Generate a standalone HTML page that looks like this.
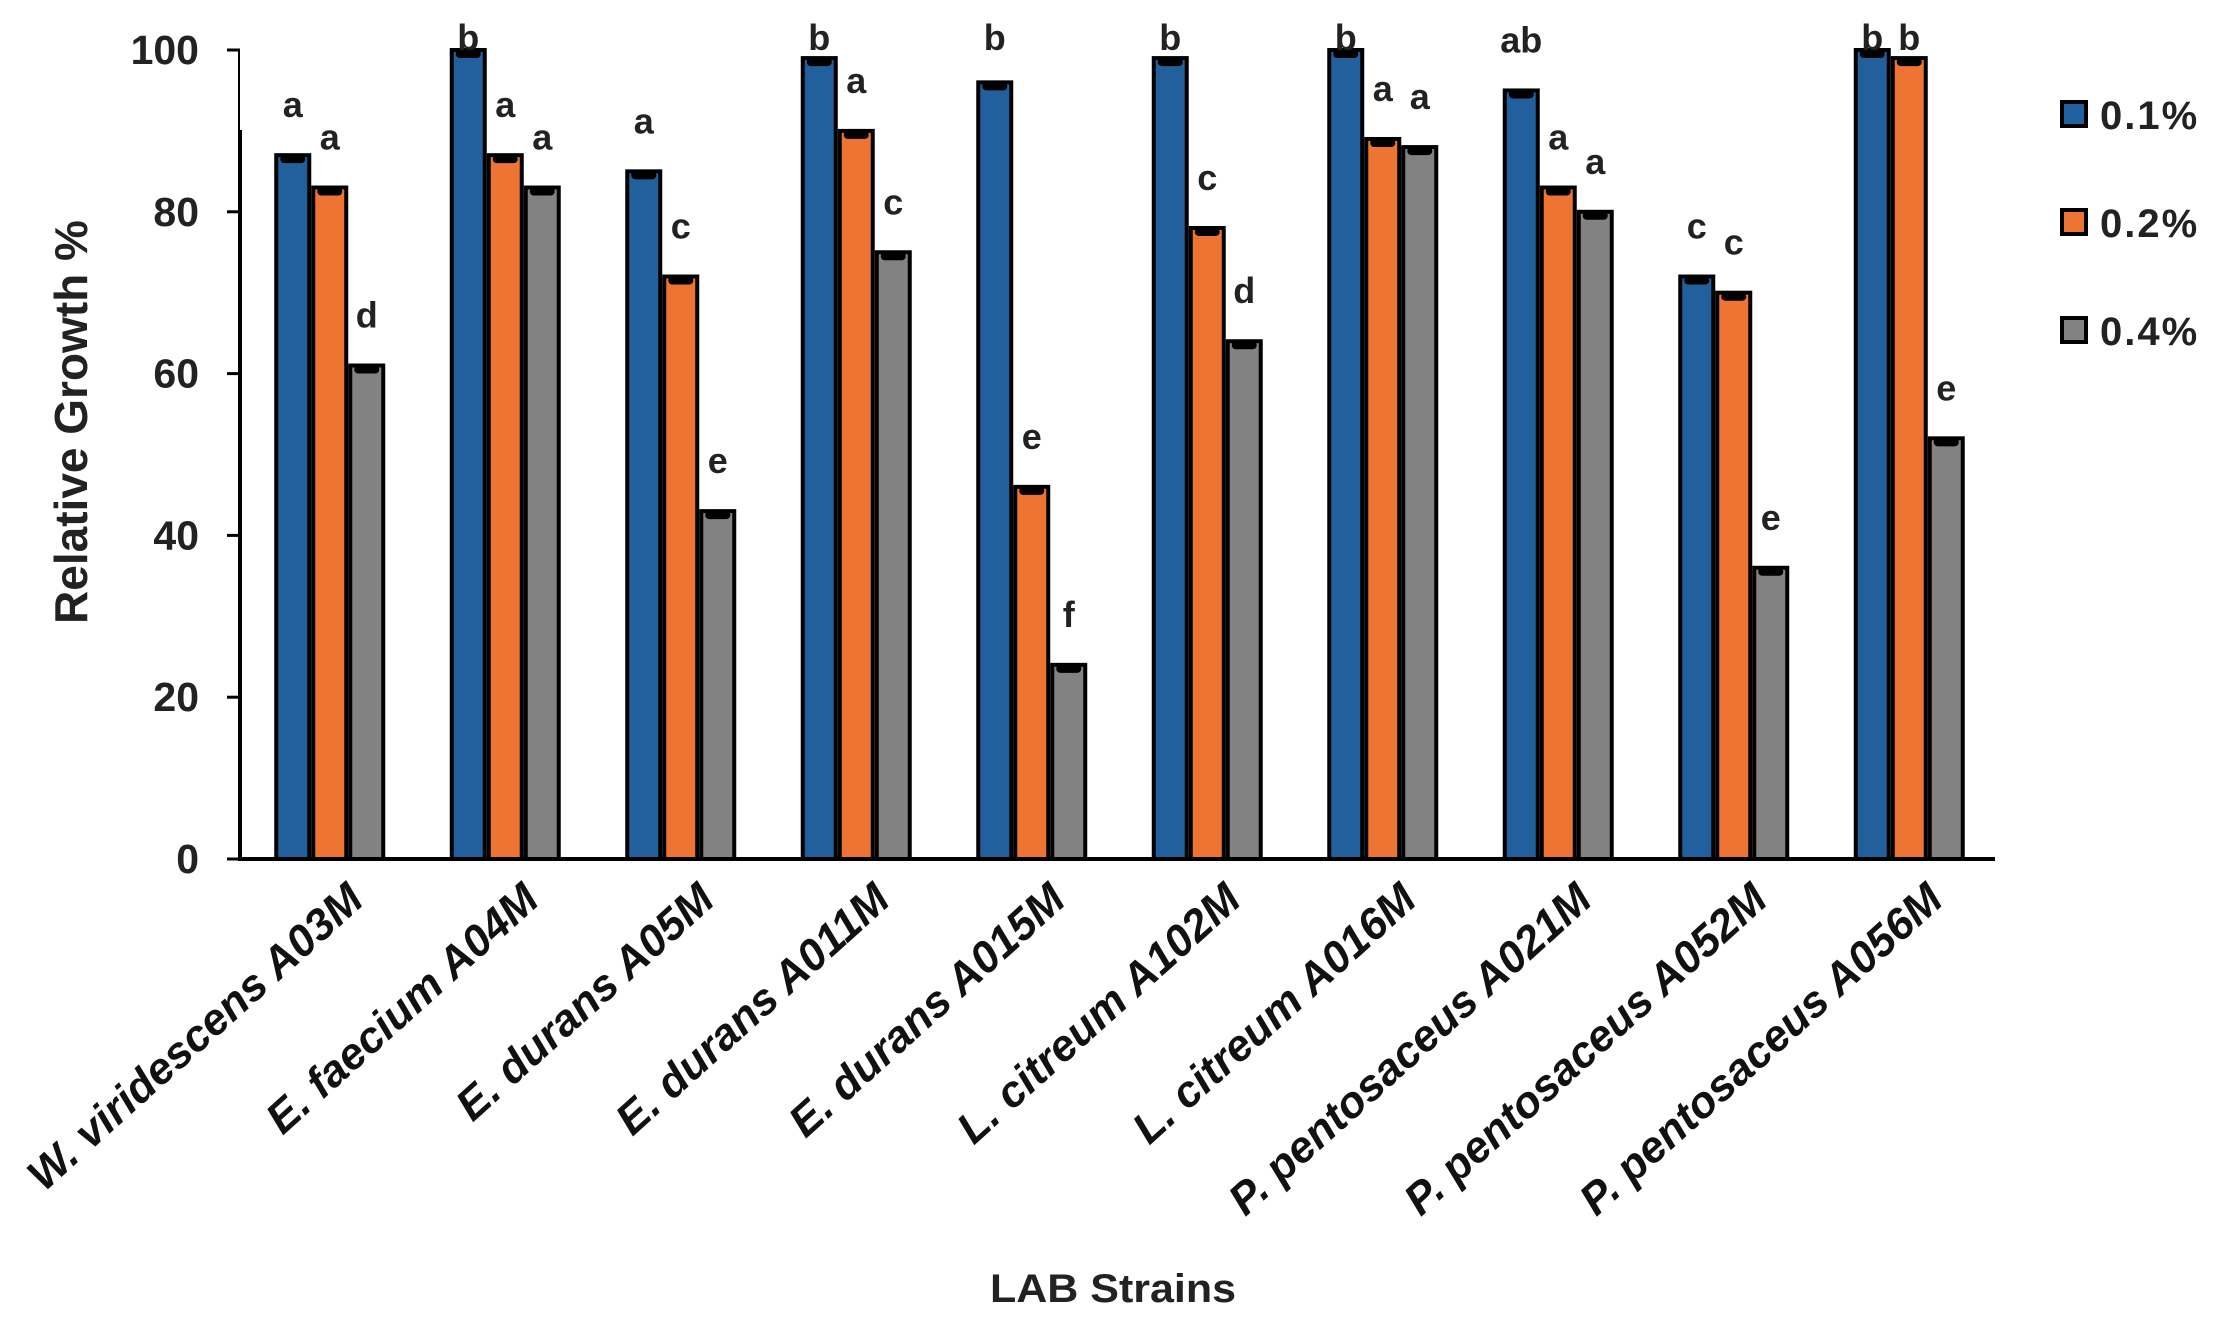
<!DOCTYPE html>
<html><head><meta charset="utf-8"><style>
html,body{margin:0;padding:0;background:#fff;}
svg{display:block;font-family:"Liberation Sans",Arial,sans-serif;}
</style></head><body>
<svg id="chart" width="2219" height="1322" viewBox="0 0 2219 1322" xmlns="http://www.w3.org/2000/svg">
<rect width="2219" height="1322" fill="#fff"/>
<g id="plot"></g>
<text transform="translate(87,422) rotate(-90)" text-anchor="middle" font-size="46" font-weight="bold" fill="#222">Relative Growth %</text>
<text x="1113" y="1302" text-anchor="middle" font-size="40" font-weight="bold" fill="#222" textLength="246" lengthAdjust="spacingAndGlyphs">LAB Strains</text>
</svg>
<script>
const categories = ["W. viridescens A03M","E. faecium A04M","E. durans A05M","E. durans A011M","E. durans A015M","L. citreum A102M","L. citreum A016M","P. pentosaceus A021M","P. pentosaceus A052M","P. pentosaceus A056M"];
const series01 = [87,100,85,99,96,99,100,95,72,100];
const series02 = [83,87,72,90,46,78,89,83,70,99];
const series04 = [61,83,43,75,24,64,88,80,36,52];
const letters01 = ["a","b","a","b","b","b","b","ab","c","b"];
const letters02 = ["a","a","c","a","e","c","a","a","c","b"];
const letters04 = ["d","a","e","c","f","d","a","a","e","e"];
const seriesNames = ["0.1%","0.2%","0.4%"];
const yTicks = [0,20,40,60,80,100];

const NS="http://www.w3.org/2000/svg";
const plot=document.getElementById('plot');
const X0=240, X1=1995, Y0=859, Y100=50;
const colors=["#21609c","#ed7433","#828282"];
function y(v){return Y0-(v/100)*(Y0-Y100);}
function catCenter(i){return X0+(X1-X0)/categories.length*(i+0.5);}
function mk(tag,attrs){const e=document.createElementNS(NS,tag);for(const k in attrs)e.setAttribute(k,attrs[k]);plot.appendChild(e);return e;}

let ax=mk('line',{x1:X0,y1:Y0+2,x2:X0,y2:130,stroke:'#000','stroke-width':4});


let ax2=mk('line',{x1:X0-1,y1:130,x2:X0-1,y2:Y100,stroke:'#000','stroke-width':2});


yTicks.forEach(t=>{
  const tk=mk('line',{x1:X0-13,y1:y(t),x2:X0,y2:y(t),stroke:'#000','stroke-width':3});
  
  
  const tl=mk('text',{x:199,y:y(t)+14,'text-anchor':'end','font-size':41,'font-weight':'bold',fill:'#222'});
  tl.textContent=t;
  
  
});

const allSeries=[series01,series02,series04];
const allLetters=[letters01,letters02,letters04];
const pitch=37;
categories.forEach((c,i)=>{
  const cx=catCenter(i);
  allSeries.forEach((s,j)=>{
    const v=s[i];
    const left=cx-1.5*pitch+j*pitch+2;
    const top=y(v);
    const b=mk('rect',{x:left+2,y:top,width:pitch-4,height:Y0-top,fill:colors[j],stroke:'#000','stroke-width':4});
    
    
    const cap=mk('rect',{x:left+6,y:top,width:pitch-12,height:8,rx:4,fill:'#000'});
    
    
    const lt=mk('text',{x:left+pitch/2,y:Math.max(top-38,50),'text-anchor':'middle','font-size':36,'font-weight':'bold',fill:'#222'});
    lt.textContent=allLetters[j][i];
    
    
  });
  const xl=mk('text',{transform:'translate('+(cx+38)+',903) rotate(-42)','text-anchor':'end','font-size':44,'font-weight':'bold','font-style':'italic',fill:'#111'});
  xl.textContent=c;
  
  
});
let xa=mk('line',{x1:X0-2,y1:Y0,x2:X1,y2:Y0,stroke:'#000','stroke-width':4});



const legY=[114,222,330];
seriesNames.forEach((n,j)=>{
  const sq=mk('rect',{x:2062,y:legY[j]-12,width:24,height:24,fill:colors[j],stroke:'#000','stroke-width':4});
  
  
  const lt=mk('text',{x:2100,y:legY[j]+15,'font-size':40,'font-weight':'bold','letter-spacing':2,fill:'#222'});
  lt.textContent=n;
  
  
});
</script>
</body></html>
